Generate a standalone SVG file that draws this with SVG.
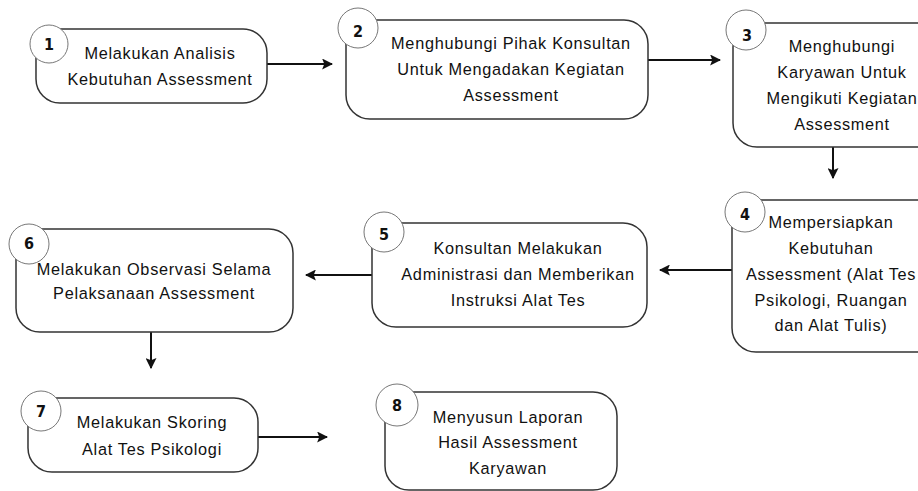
<svg xmlns="http://www.w3.org/2000/svg" width="918" height="491" viewBox="0 0 918 491">
<defs>
<marker id="ah" viewBox="0 0 10 10" refX="9" refY="5" markerWidth="5.5" markerHeight="5.5" orient="auto" markerUnits="strokeWidth">
<path d="M0,0 L10,5 L0,10 L2,5 Z" fill="#111"/>
</marker>
<style>
.box{fill:#fff;stroke:#333;stroke-width:1.5}
.num{fill:#fff;stroke:#777;stroke-width:1}
.nt{font-family:"DejaVu Sans Condensed","DejaVu Sans",sans-serif;font-weight:bold;font-size:16px;fill:#111;text-anchor:middle}
.t{font-family:"Liberation Sans",Arial,sans-serif;font-size:16.3px;letter-spacing:0.7px;fill:#111;text-anchor:middle}
.c{stroke:#111;stroke-width:2;fill:none;marker-end:url(#ah)}
</style>
</defs>
<rect width="918" height="491" fill="#fff"/>
<g id="connectors">
<line class="c" x1="267" y1="64" x2="332" y2="64"/>
<line class="c" x1="648" y1="60" x2="720" y2="60"/>
<line class="c" x1="833" y1="147" x2="833" y2="178"/>
<line class="c" x1="732" y1="270" x2="660" y2="270"/>
<line class="c" x1="372" y1="275" x2="306" y2="275"/>
<line class="c" x1="151" y1="332" x2="151" y2="368"/>
<line class="c" x1="258" y1="437" x2="327" y2="437"/>
</g>
<g id="node1">
<rect class="box" x="36" y="29" width="231" height="74" rx="24"/>
<circle class="num" cx="49" cy="44" r="19"/>
<text class="nt" x="49" y="50">1</text>
<text class="t" x="160" y="59">Melakukan Analisis</text>
<text class="t" x="160" y="85">Kebutuhan Assessment</text>
</g>
<g id="node2">
<rect class="box" x="346" y="20" width="302" height="99" rx="24"/>
<circle class="num" cx="358" cy="28" r="20"/>
<text class="nt" x="358" y="37">2</text>
<text class="t" x="511" y="49">Menghubungi Pihak Konsultan</text>
<text class="t" x="511" y="75">Untuk Mengadakan Kegiatan</text>
<text class="t" x="511" y="101">Assessment</text>
</g>
<g id="node3">
<rect class="box" x="733" y="23" width="210" height="124" rx="24"/>
<circle class="num" cx="746" cy="30" r="20"/>
<text class="nt" x="747" y="41">3</text>
<text class="t" x="842" y="52">Menghubungi</text>
<text class="t" x="842" y="78">Karyawan Untuk</text>
<text class="t" x="842" y="104">Mengikuti Kegiatan</text>
<text class="t" x="842" y="130">Assessment</text>
</g>
<g id="node4">
<rect class="box" x="732" y="200" width="210" height="152" rx="24"/>
<circle class="num" cx="745" cy="212" r="20"/>
<text class="nt" x="745" y="220">4</text>
<text class="t" x="831" y="228">Mempersiapkan</text>
<text class="t" x="831" y="254">Kebutuhan</text>
<text class="t" x="831" y="280">Assessment (Alat Tes</text>
<text class="t" x="831" y="306">Psikologi, Ruangan</text>
<text class="t" x="831" y="331">dan Alat Tulis)</text>
</g>
<g id="node5">
<rect class="box" x="372" y="223" width="275" height="104" rx="24"/>
<circle class="num" cx="384" cy="232" r="20"/>
<text class="nt" x="384" y="240">5</text>
<text class="t" x="518" y="254">Konsultan Melakukan</text>
<text class="t" x="518" y="280">Administrasi dan Memberikan</text>
<text class="t" x="518" y="306">Instruksi Alat Tes</text>
</g>
<g id="node6">
<rect class="box" x="16" y="229" width="277" height="103" rx="24"/>
<circle class="num" cx="29" cy="244" r="20"/>
<text class="nt" x="29" y="249">6</text>
<text class="t" x="154" y="275">Melakukan Observasi Selama</text>
<text class="t" x="154" y="299">Pelaksanaan Assessment</text>
</g>
<g id="node7">
<rect class="box" x="28" y="398" width="230" height="74" rx="24"/>
<circle class="num" cx="41" cy="411" r="20"/>
<text class="nt" x="41" y="417">7</text>
<text class="t" x="152" y="428">Melakukan Skoring</text>
<text class="t" x="152" y="455">Alat Tes Psikologi</text>
</g>
<g id="node8">
<rect class="box" x="385" y="392" width="232" height="98" rx="24"/>
<circle class="num" cx="397" cy="405" r="21"/>
<text class="nt" x="397" y="411">8</text>
<text class="t" x="508" y="423">Menyusun Laporan</text>
<text class="t" x="508" y="448">Hasil Assessment</text>
<text class="t" x="508" y="474">Karyawan</text>
</g>
</svg>
